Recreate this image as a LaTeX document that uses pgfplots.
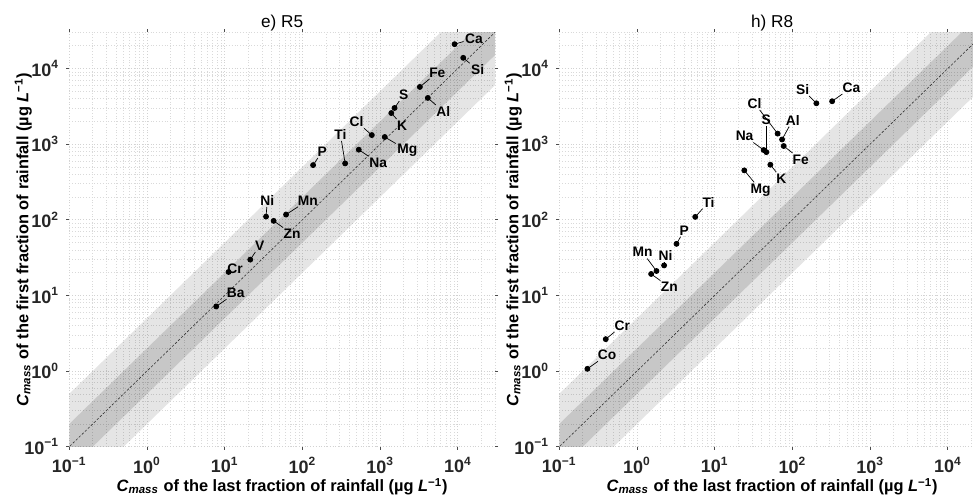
\documentclass[border=0pt]{standalone}
\usepackage{pgfplots}
\pgfplotsset{compat=1.18}
\usepackage{fontspec}
\setmainfont{Liberation Sans}
\definecolor{gridc}{HTML}{D2D2D2}

\tikzset{
  lbl/.style={font=\fontsize{6.9}{7}\selectfont\bfseries, inner sep=0.6pt},
  leader/.style={black, line width=0.35pt},
}
\newcommand{\lab}[6]{% name, px, py, lx, ly, text
  \node[lbl] (#1) at (axis cs:#4,#5) {#6};
  \draw[leader] (axis cs:#2,#3) -- (#1);
}
\newcommand{\labn}[3]{% text, lx, ly  (no leader)
  \node[lbl] at (axis cs:#2,#3) {#1};
}

\pgfplotsset{
  every axis title/.style={at={(axis description cs:0.5,1)}, anchor=center, yshift=4.6pt, font=\fontsize{8.6}{10}\selectfont},
  every axis/.append style={
    scale only axis, width=212.85pt, height=207.2pt,
    xmin=0.1, xmax=30000, ymin=0.1, ymax=30000,
    axis line style={draw=none},
    tick align=outside,
    major tick length=1.6pt,
    minor tick length=0pt,
    tick style={color=black!70, line width=0.5pt},
    grid=both,
    major grid style={gridc, densely dotted, line width=0.45pt},
    minor grid style={gridc!85, densely dotted, line width=0.3pt},
    xtick={0.1,1,10,100,1000,10000},
    ytick={0.1,1,10,100,1000,10000},
    minor xtick={0.2,0.3,0.4,0.5,0.6,0.7,0.8,0.9,2,3,4,5,6,7,8,9,20,30,40,50,60,70,80,90,200,300,400,500,600,700,800,900,2000,3000,4000,5000,6000,7000,8000,9000,20000,30000},
    minor ytick={0.2,0.3,0.4,0.5,0.6,0.7,0.8,0.9,2,3,4,5,6,7,8,9,20,30,40,50,60,70,80,90,200,300,400,500,600,700,800,900,2000,3000,4000,5000,6000,7000,8000,9000,20000,30000},
    xticklabels={10\textsuperscript{−1},10\textsuperscript{0},10\textsuperscript{1},10\textsuperscript{2},10\textsuperscript{3},10\textsuperscript{4}},
    yticklabels={10\textsuperscript{−1},10\textsuperscript{0},10\textsuperscript{1},10\textsuperscript{2},10\textsuperscript{3},10\textsuperscript{4}},
    ticklabel style={font=\fontsize{9}{10}\selectfont\bfseries, text=black!85},
    clip=true,
    label style={font=\fontsize{8.2}{10}\selectfont\bfseries},
    xlabel style={at={(axis description cs:0.5,0)}, anchor=center, yshift=-20pt},
    ylabel style={at={(axis description cs:0,0.5)}, anchor=center, yshift=23pt},
    xlabel={\textit{C}\textsubscript{\textit{mass}} of the last fraction of rainfall (µg \textit{L}\textsuperscript{−1})},
    ylabel={\textit{C}\textsubscript{\textit{mass}} of the first fraction of rainfall (µg \textit{L}\textsuperscript{−1})},
  },
}

\begin{document}
\begin{tikzpicture}
% ---------------- left panel: e) R5 ----------------
\begin{loglogaxis}[at={(34.65pt,24.15pt)}, anchor=south west, title={e) R5}]
\addplot[fill=black, fill opacity=0.10, draw=none, forget plot] coordinates {(0.01,0.05) (1e6,5e6) (1e6,2e5) (0.01,0.002)};
\addplot[fill=black, fill opacity=0.13, draw=none, forget plot] coordinates {(0.01,0.02) (1e6,2e6) (1e6,5e5) (0.01,0.005)};
\addplot[black!80, dash pattern=on 1.2pt off 0.9pt, line width=0.3pt, forget plot] coordinates {(0.01,0.01) (1e6,1e6)};
\addplot[only marks, mark=*, mark size=1.25pt, black] coordinates {
(9060,20900) (11700,13800) (3240,5690) (4100,4070) (1530,3000) (1390,2570)
(780,1315) (1145,1240) (530,843) (354,555) (137,527) (61.5,117) (34,110)
(42.6,96.6) (21.3,29.7) (11.2,20.4) (7.76,7.14)};
\lab{LCa}{9060}{20900}{16070}{24900}{Ca}
\lab{LSi}{11700}{13800}{17950}{9550}{Si}
\lab{LFe}{3240}{5690}{5430}{8830}{Fe}
\lab{LAl}{4100}{4070}{6490}{2690}{Al}
\lab{LS}{1530}{3000}{2010}{4510}{S}
\lab{LK}{1390}{2570}{1920}{1770}{K}
\lab{LCl}{780}{1315}{495}{1980}{Cl}
\lab{LMg}{1145}{1240}{2230}{826}{Mg}
\lab{LNa}{530}{843}{942}{567}{Na}
\lab{LTi}{354}{555}{308}{1343}{Ti}
\lab{LP}{137}{527}{179}{793}{P}
\lab{LMn}{61.5}{117}{117}{180}{Mn}
\lab{LNi}{34}{110}{35.3}{180}{Ni}
\lab{LZn}{42.6}{96.6}{73.5}{65}{Zn}
\lab{LV}{21.3}{29.7}{28.1}{45.5}{V}
\labn{Cr}{13.6}{22.4}
\lab{LBa}{7.76}{7.14}{13.8}{10.8}{Ba}
\end{loglogaxis}
% ---------------- right panel: h) R8 ----------------
\begin{loglogaxis}[at={(279.65pt,24.15pt)}, anchor=south west, title={h) R8}]
\addplot[fill=black, fill opacity=0.10, draw=none, forget plot] coordinates {(0.01,0.05) (1e6,5e6) (1e6,2e5) (0.01,0.002)};
\addplot[fill=black, fill opacity=0.13, draw=none, forget plot] coordinates {(0.01,0.02) (1e6,2e6) (1e6,5e5) (0.01,0.005)};
\addplot[black!80, dash pattern=on 1.2pt off 0.9pt, line width=0.3pt, forget plot] coordinates {(0.01,0.01) (1e6,1e6)};
\addplot[only marks, mark=*, mark size=1.25pt, black] coordinates {
(324,3680) (203,3460) (64.4,1375) (73.5,1150) (42.6,834) (46.1,783) (77.1,942)
(51.9,533) (24,449) (5.61,109) (3.22,48) (2.23,24.9) (1.78,21) (1.52,19.2)
(0.396,2.64) (0.23,1.07)};
\lab{RCa}{324}{3680}{574}{5590}{Ca}
\lab{RSi}{203}{3460}{135}{5300}{Si}
\lab{RCl}{64.4}{1375}{32.6}{3460}{Cl}
\lab{RAl}{73.5}{1150}{100.7}{2080}{Al}
\lab{RS}{46.1}{783}{46.1}{2080}{S}
\lab{RNa}{42.6}{834}{24.2}{1276}{Na}
\lab{RFe}{77.1}{942}{127.6}{627}{Fe}
\lab{RK}{51.9}{533}{71.9}{351}{K}
\lab{RMg}{24}{449}{38.9}{246}{Mg}
\lab{RTi}{5.61}{109}{8.32}{171}{Ti}
\lab{RP}{3.22}{48}{4.05}{72}{P}
\lab{RNi}{2.23}{24.9}{2.32}{33.6}{Ni}
\lab{RMn}{1.78}{21}{1.175}{37.2}{Mn}
\lab{RZn}{1.52}{19.2}{2.6}{12.9}{Zn}
\lab{RCr}{0.396}{2.64}{0.648}{4.0}{Cr}
\lab{RCo}{0.23}{1.07}{0.412}{1.64}{Co}
\end{loglogaxis}
\pgfresetboundingbox
\useasboundingbox (0,0) rectangle (486.5pt,247.5pt);
\end{tikzpicture}
\end{document}
